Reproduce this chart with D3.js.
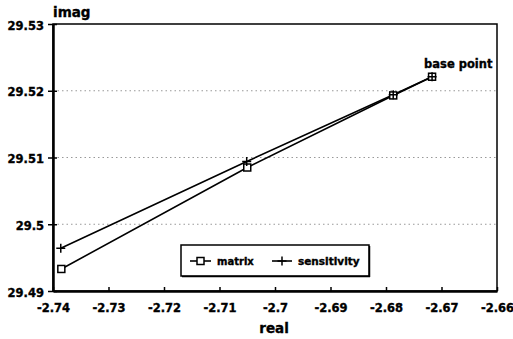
<!DOCTYPE html>
<html><head><meta charset="utf-8">
<script src="https://cdn.jsdelivr.net/npm/d3@7"></script>
<style>body{margin:0;background:#fff}svg{display:block}text{font-family:"DejaVu Sans",sans-serif;font-weight:bold;fill:#000;stroke:#000;stroke-width:0.35px}</style>
</head><body><svg id="c" width="513" height="339"></svg>
<script>
const matrixX = [-2.7385, -2.7050, -2.6787, -2.6717];
const matrixY = [29.4933, 29.5085, 29.5193, 29.5221];
const sensX = [-2.7386, -2.7051, -2.6787, -2.6717];
const sensY = [29.4964, 29.5094, 29.5194, 29.5221];
const xTicks = [-2.74, -2.73, -2.72, -2.71, -2.7, -2.69, -2.68, -2.67, -2.66];
const yTicks = [29.49, 29.5, 29.51, 29.52, 29.53];
const seriesNames = ["matrix", "sensitivity"];

const svg = d3.select("#c");
const L = 53, R = 497, T = 24, B = 291;
const x = d3.scaleLinear().domain([-2.74, -2.66]).range([L, R]);
const y = d3.scaleLinear().domain([29.49, 29.53]).range([B, T]);
const fmt = d => String(+d.toFixed(2));

// grid
svg.append("g").selectAll("line").data(yTicks.slice(1, 4)).join("line")
  .attr("x1", L).attr("x2", R).attr("y1", d => y(d)).attr("y2", d => y(d))
  .attr("stroke", "#999").attr("stroke-width", 1).attr("stroke-dasharray", "1.5,3");

// frame
svg.append("rect").attr("x", L).attr("y", T).attr("width", R - L).attr("height", B - T)
  .attr("fill", "none").attr("stroke", "#000").attr("stroke-width", 1.5);

// axes
const xAxis = svg.append("g").attr("transform", `translate(0,${B})`)
  .call(d3.axisBottom(x).tickValues(xTicks).tickSizeInner(-4).tickSizeOuter(0).tickPadding(13).tickFormat(fmt));
xAxis.select(".domain").attr("stroke-width", 2.5);
xAxis.selectAll(".tick line").attr("stroke-width", 1.5);
xAxis.selectAll("text").attr("font-size", "11.5px").attr("fill", "#000");

const yAxis = svg.append("g").attr("transform", `translate(${L},0)`)
  .call(d3.axisLeft(y).tickValues(yTicks).tickSizeInner(5).tickSizeOuter(0).tickPadding(4).tickFormat(fmt));
yAxis.select(".domain").attr("stroke-width", 2.5);
yAxis.selectAll(".tick line").attr("x2", -5).attr("x1", 4).attr("stroke-width", 1.5);
yAxis.selectAll("text").attr("font-size", "11.5px").attr("fill", "#000").attr("dy", "0.45em");
svg.selectAll(".domain").attr("stroke", "#000");

svg.append("text").attr("x", L).attr("y", 17).attr("font-size", "13.5px").text("imag");
svg.append("text").attr("x", 274).attr("y", 333).attr("text-anchor", "middle").attr("font-size", "13.5px").text("real");

const line = d3.line().x(d => x(d[0])).y(d => y(d[1]));
const mData = matrixX.map((v, i) => [v, matrixY[i]]);
const sData = sensX.map((v, i) => [v, sensY[i]]);
svg.append("path").datum(sData).attr("d", line).attr("fill", "none").attr("stroke", "#000").attr("stroke-width", 1.6);
svg.append("path").datum(mData).attr("d", line).attr("fill", "none").attr("stroke", "#000").attr("stroke-width", 1.6);

function square(g, cx, cy) {
  g.append("rect").attr("x", cx - 3.5).attr("y", cy - 3.5).attr("width", 7).attr("height", 7)
    .attr("fill", "#fff").attr("stroke", "#000").attr("stroke-width", 1.5);
}
function plus(g, cx, cy) {
  g.append("path").attr("d", `M${cx - 4.5},${cy}H${cx + 4.5}M${cx},${cy - 4.5}V${cy + 4.5}`)
    .attr("stroke", "#000").attr("stroke-width", 1.5);
}
const mk = svg.append("g");
mData.forEach(d => square(mk, x(d[0]), y(d[1])));
sData.forEach(d => plus(mk, x(d[0]), y(d[1])));

svg.append("text").attr("x", x(matrixX[3]) - 8).attr("y", 68).attr("font-size", "11.5px").text("base point");

// legend
const lg = svg.append("g");
lg.append("rect").attr("x", 181).attr("y", 245).attr("width", 188).attr("height", 31)
  .attr("fill", "#fff").attr("stroke", "#000").attr("stroke-width", 1.5);
lg.append("line").attr("x1", 182).attr("x2", 370).attr("y1", 276.5).attr("y2", 276.5).attr("stroke", "#000").attr("stroke-width", 1.5);
lg.append("line").attr("x1", 369.5).attr("x2", 369.5).attr("y1", 246).attr("y2", 277).attr("stroke", "#000").attr("stroke-width", 1.5);
const ly = 261;
lg.append("line").attr("x1", 190).attr("x2", 211).attr("y1", ly).attr("y2", ly).attr("stroke", "#000").attr("stroke-width", 1.6);
square(lg, 200.5, ly);
lg.append("text").attr("x", 217).attr("y", ly + 4).attr("font-size", "10px").text(seriesNames[0]);
lg.append("line").attr("x1", 272).attr("x2", 292).attr("y1", ly).attr("y2", ly).attr("stroke", "#000").attr("stroke-width", 1.6);
plus(lg, 282, ly);
lg.append("text").attr("x", 298).attr("y", ly + 4).attr("font-size", "10.5px").text(seriesNames[1]);
</script></body></html>
